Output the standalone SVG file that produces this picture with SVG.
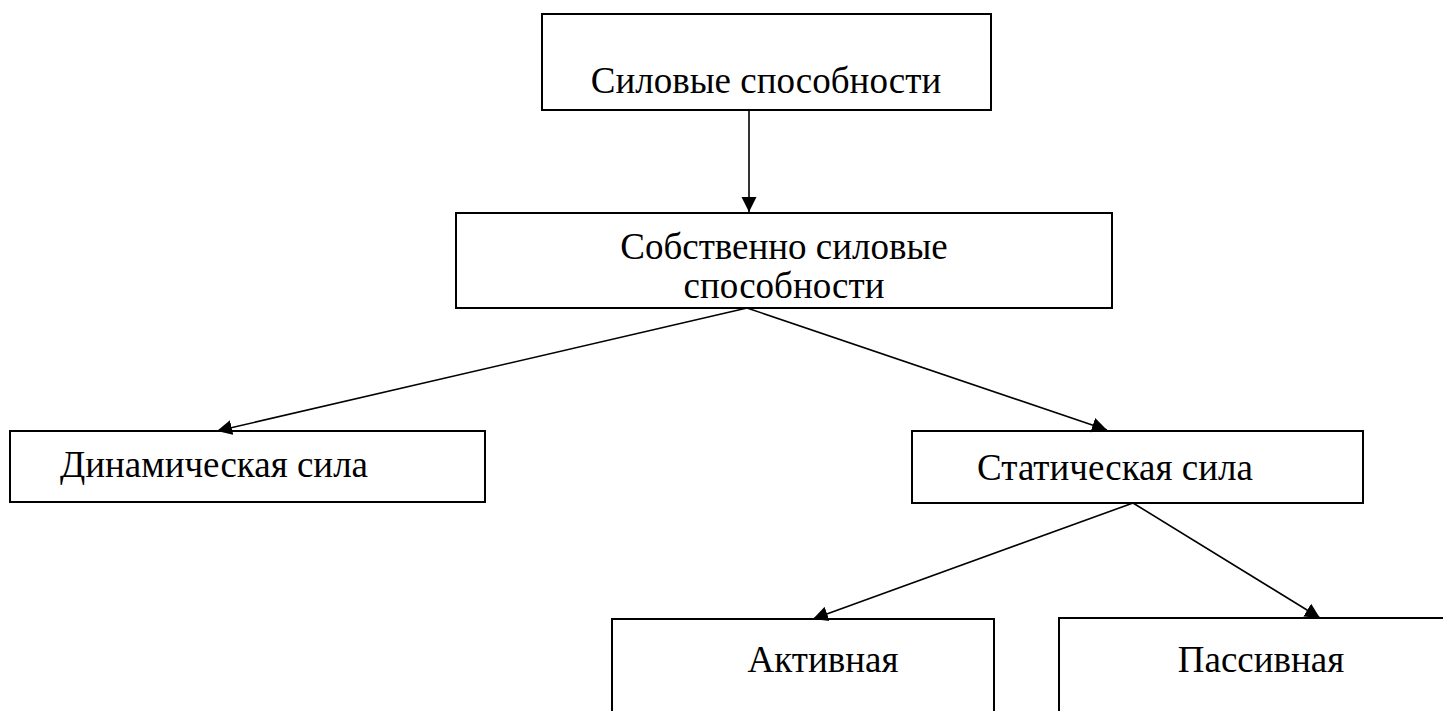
<svg xmlns="http://www.w3.org/2000/svg" width="1443" height="711" viewBox="0 0 1443 711">
<style>
.box{fill:#fff;stroke:#000;stroke-width:2}
.lbl{font-family:"Liberation Serif","Times New Roman",serif;font-size:37px;fill:#000;text-anchor:middle}
.con{stroke:#000;stroke-width:1.6;fill:none;marker-end:url(#ah)}
</style>
<defs>
<marker id="ah" markerUnits="userSpaceOnUse" markerWidth="16" markerHeight="16" viewBox="0 0 16 16" refX="15" refY="8" orient="auto">
<path d="M0,0.5 L15,8 L0,15.5 Z" fill="#000"/>
</marker>
</defs>
<rect width="1443" height="711" fill="#fff"/>
<g id="n1"><rect class="box" x="542" y="14" width="449" height="96"/><text class="lbl" x="766" y="93">Силовые способности</text></g>
<g id="n2"><rect class="box" x="456" y="213" width="656" height="95"/><text class="lbl" x="784" y="259">Собственно силовые</text><text class="lbl" x="784" y="298">способности</text></g>
<g id="n3"><rect class="box" x="10" y="431" width="475" height="71"/><text class="lbl" x="214" y="477">Динамическая сила</text></g>
<g id="n4"><rect class="box" x="912" y="431" width="451" height="72"/><text class="lbl" x="1115" y="480">Статическая сила</text></g>
<g id="n5"><rect class="box" x="612" y="619" width="382" height="110"/><text class="lbl" x="823" y="672">Активная</text></g>
<g id="n6"><rect class="box" x="1059" y="618" width="400" height="110"/><text class="lbl" x="1261" y="672">Пассивная</text></g>
<g id="connectors">
<line class="con" x1="749" y1="110" x2="749" y2="212"/>
<line class="con" x1="747" y1="308" x2="217" y2="431"/>
<line class="con" x1="747" y1="308" x2="1107" y2="430"/>
<line class="con" x1="1133" y1="503" x2="813" y2="619"/>
<line class="con" x1="1133" y1="503" x2="1320" y2="618"/>
</g>
</svg>
